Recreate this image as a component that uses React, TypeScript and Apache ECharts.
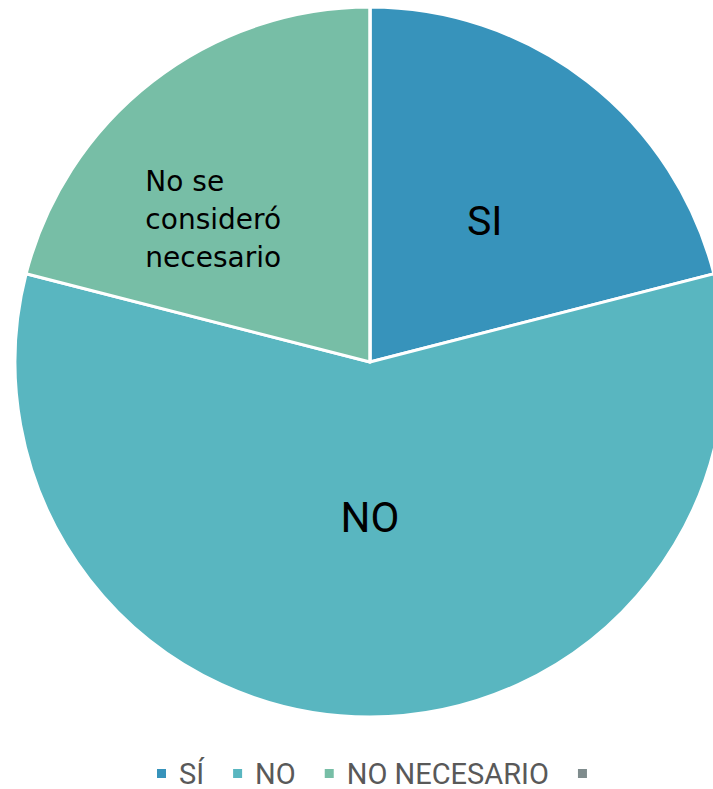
import React, { useEffect, useRef } from "react";
import * as echarts from "echarts";

const legendNames = ["SÍ", "NO", "NO NECESARIO", " "];
const sliceLabels = ["SI", "NO", "No se\nconsideró\nnecesario", ""];
const values = [21, 58, 21, 0];
const colors = ["#3793BB", "#59B6C0", "#77BEA6", "#7F8C8D"];
const labelSizes = [41, 42, 28, 28];

export default function App() {
  const ref = useRef<HTMLDivElement>(null);
  useEffect(() => {
    document.body.style.margin = "0";
    const chart = echarts.init(ref.current!, null, { renderer: "svg" });
    const capsFont = "Roboto, 'Noto Sans', sans-serif";
    const textFont = "'DejaVu Sans', Verdana, sans-serif";
    chart.setOption({
      animation: false,
      color: colors,
      legend: {
        top: 759,
        left: 155,
        padding: 0,
        icon: "rect",
        itemWidth: 11,
        itemHeight: 11,
        itemGap: 27,
        data: legendNames,
        textStyle: {
          fontSize: 29,
          lineHeight: 29,
          color: "#595959",
          fontFamily: capsFont,
          padding: [0, 0, 0, 7],
        },
      },
      series: [
        {
          type: "pie",
          center: [370, 362],
          radius: 355,
          startAngle: 90,
          clockwise: true,
          itemStyle: { borderColor: "#ffffff", borderWidth: 3 },
          label: {
            show: true,
            position: "inside",
            color: "#000000",
            fontFamily: capsFont,
          },
          labelLine: { show: false },
          emphasis: { disabled: true },
          labelLayout: (p: any) => (p.dataIndex === 1 ? { dy: -25 } : p.dataIndex === 0 ? { dx: 4, dy: 2 } : {}),
          data: legendNames.map((n, i) => ({
            name: n,
            value: values[i],
            label: {
              show: values[i] > 0,
              formatter: sliceLabels[i],
              fontSize: labelSizes[i],
              ...(i === 2
                ? {
                    formatter: "{l|" + sliceLabels[i].split("\n").join("}\n{l|") + "}",
                    rich: {
                      l: { width: 228, align: "left", fontSize: 28, lineHeight: 38, fontFamily: textFont, color: "#000" },
                    },
                  }
                : {}),
            },
          })),
        },
      ],
    });
    return () => chart.dispose();
  }, []);
  return <div ref={ref} style={{ width: 713, height: 789 }} />;
}
